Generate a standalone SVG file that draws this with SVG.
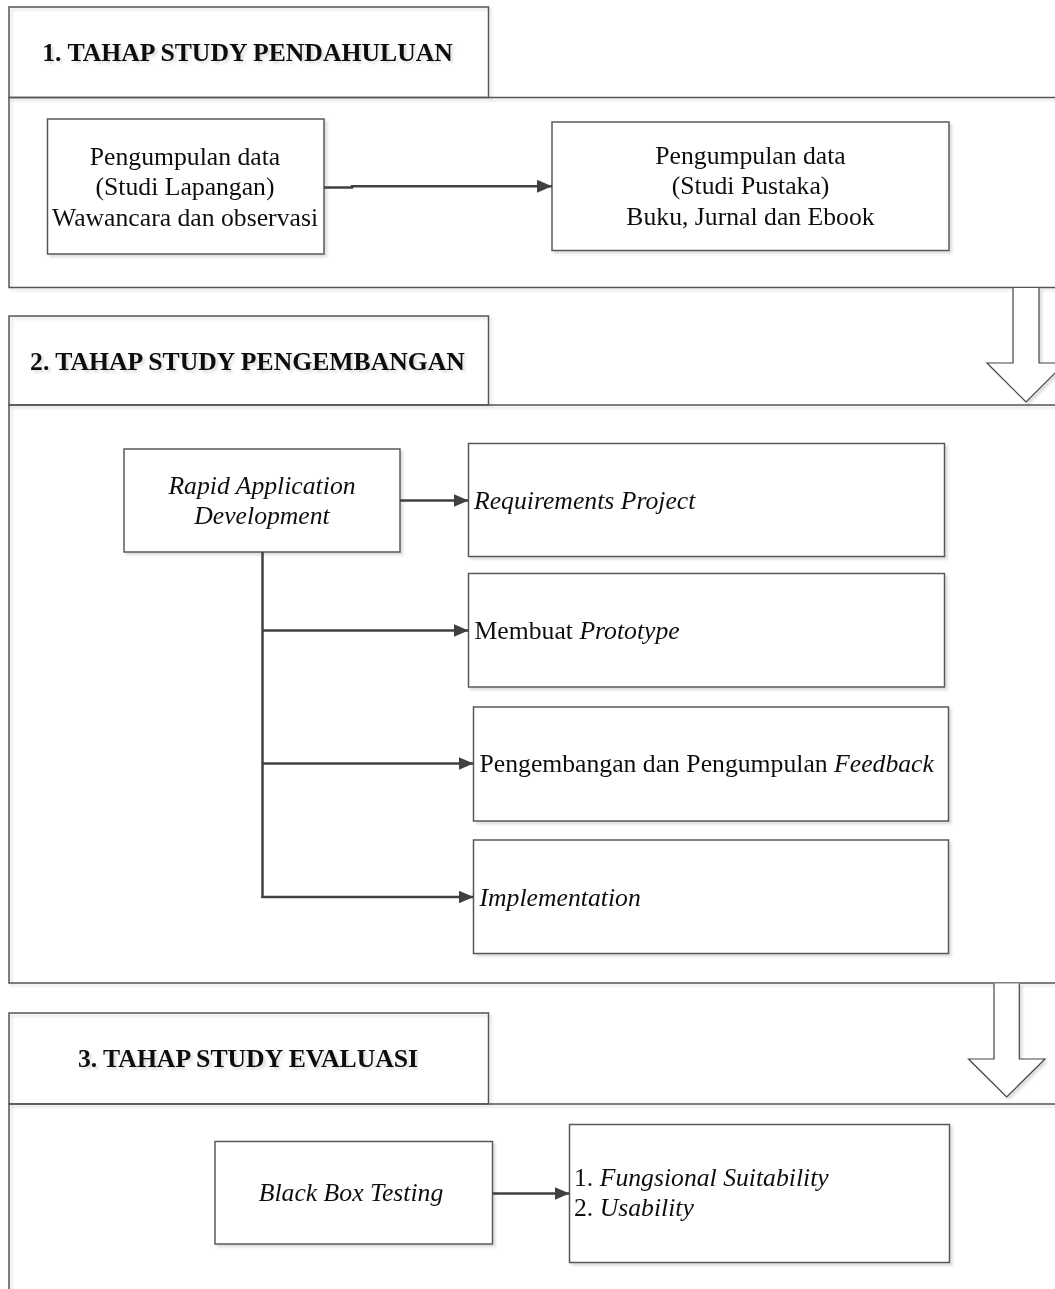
<svg xmlns="http://www.w3.org/2000/svg" width="1055" height="1289" viewBox="0 0 1055 1289">
  <defs>
    <filter id="soft" x="-5%" y="-5%" width="115%" height="115%">
      <feDropShadow dx="2.5" dy="2.5" stdDeviation="0.8" flood-color="#000" flood-opacity="0.13"/>
    </filter>
    <marker id="head" markerWidth="15" markerHeight="13" refX="15" refY="6.5" orient="auto" markerUnits="userSpaceOnUse">
      <path d="M0,0 L15,6.5 L0,13 Z" fill="#404040"/>
    </marker>
    <style>
      .frame { fill: none; stroke: #555; stroke-width: 1.5; }
      .box { fill: #fff; stroke: #595959; stroke-width: 1.5; }
      .big { fill: #fff; stroke: #444; stroke-width: 1.2; stroke-linejoin: miter; }
      .link { fill: none; stroke: #404040; stroke-width: 2.5; }
      text { font-family: "Liberation Serif", "Times New Roman", serif; font-size: 25.7px; fill: #111; }
      .title { font-weight: bold; text-anchor: middle; }
      .mid { text-anchor: middle; }
      .it { font-style: italic; }
    </style>
  </defs>

  <rect width="1055" height="1289" fill="#fff"/>

  <!-- Stage frames -->
  <g id="stage1" filter="url(#soft)">
    <rect class="frame" x="9" y="7" width="479.5" height="90.5"/>
    <path class="frame" d="M1055,97.5 H9 V287.5 H1055"/>
    <text class="title" x="247.5" y="61">1. TAHAP STUDY PENDAHULUAN</text>
  </g>
  <g id="stage2" filter="url(#soft)">
    <rect class="frame" x="9" y="316" width="479.5" height="89"/>
    <path class="frame" d="M1055,405 H9 V983 H1055"/>
    <text class="title" x="247.5" y="369.5">2. TAHAP STUDY PENGEMBANGAN</text>
  </g>
  <g id="stage3" filter="url(#soft)">
    <rect class="frame" x="9" y="1013" width="479.5" height="91"/>
    <path class="frame" d="M1055,1104 H9 V1289"/>
    <text class="title" x="248" y="1067">3. TAHAP STUDY EVALUASI</text>
  </g>

  <!-- Block arrows between stages -->
  <g id="stage-arrow-1" filter="url(#soft)">
    <path class="big" d="M1013,288 V363 H987 L1026,402 L1065,363 H1039 V288"/>
  </g>
  <g id="stage-arrow-2" filter="url(#soft)">
    <path class="big" d="M994,983.5 V1059 H968.5 L1006.7,1097 L1045,1059 H1019.3 V983.5"/>
  </g>

  <!-- Stage 1 nodes -->
  <g id="studi-lapangan" filter="url(#soft)">
    <rect class="box" x="47.5" y="119" width="276.5" height="135"/>
    <text class="mid" x="185" y="165">Pengumpulan data</text>
    <text class="mid" x="185" y="195">(Studi Lapangan)</text>
    <text class="mid" x="185" y="225.5">Wawancara dan observasi</text>
  </g>
  <g id="studi-pustaka" filter="url(#soft)">
    <rect class="box" x="552" y="122" width="397" height="128.5"/>
    <text class="mid" x="750.5" y="164">Pengumpulan data</text>
    <text class="mid" x="750.5" y="194">(Studi Pustaka)</text>
    <text class="mid" x="750.5" y="224.5">Buku, Jurnal dan Ebook</text>
  </g>

  <!-- Stage 2 nodes -->
  <g id="rad" filter="url(#soft)">
    <rect class="box" x="124" y="449" width="276" height="103"/>
    <text class="mid it" x="262" y="493.5">Rapid Application</text>
    <text class="mid it" x="262" y="523.5">Development</text>
  </g>
  <g id="requirements" filter="url(#soft)">
    <rect class="box" x="468.5" y="443.5" width="476" height="113"/>
    <text class="it" x="474" y="508.5">Requirements Project</text>
  </g>
  <g id="prototype" filter="url(#soft)">
    <rect class="box" x="468.5" y="573.5" width="476" height="113.5"/>
    <text x="474.5" y="638.5">Membuat <tspan class="it">Prototype</tspan></text>
  </g>
  <g id="feedback" filter="url(#soft)">
    <rect class="box" x="473.5" y="707" width="475" height="114"/>
    <text x="479.5" y="772">Pengembangan dan Pengumpulan <tspan class="it">Feedback</tspan></text>
  </g>
  <g id="implementation" filter="url(#soft)">
    <rect class="box" x="473.5" y="840" width="475" height="113.5"/>
    <text class="it" x="479.5" y="905.5">Implementation</text>
  </g>

  <!-- Stage 3 nodes -->
  <g id="black-box" filter="url(#soft)">
    <rect class="box" x="215" y="1141.5" width="277.5" height="102.5"/>
    <text class="mid it" x="351" y="1200.5">Black Box Testing</text>
  </g>
  <g id="quality" filter="url(#soft)">
    <rect class="box" x="569.5" y="1124.5" width="380" height="138"/>
    <text x="574" y="1185.5">1. <tspan class="it">Fungsional Suitability</tspan></text>
    <text x="574" y="1215.5">2. <tspan class="it">Usability</tspan></text>
  </g>

  <!-- Connectors -->
  <g id="connectors">
    <path class="link" d="M324,187.5 H352 V186.3 H552" marker-end="url(#head)"/>
    <path class="link" d="M400,500.5 H468.5" marker-end="url(#head)"/>
    <path class="link" d="M262.5,552 V897.5"/>
    <path class="link" d="M262.5,630.5 H468.5" marker-end="url(#head)"/>
    <path class="link" d="M262.5,763.5 H473.5" marker-end="url(#head)"/>
    <path class="link" d="M261.25,897 H473.5" marker-end="url(#head)"/>
    <path class="link" d="M492.5,1193.5 H569.5" marker-end="url(#head)"/>
  </g>
</svg>
